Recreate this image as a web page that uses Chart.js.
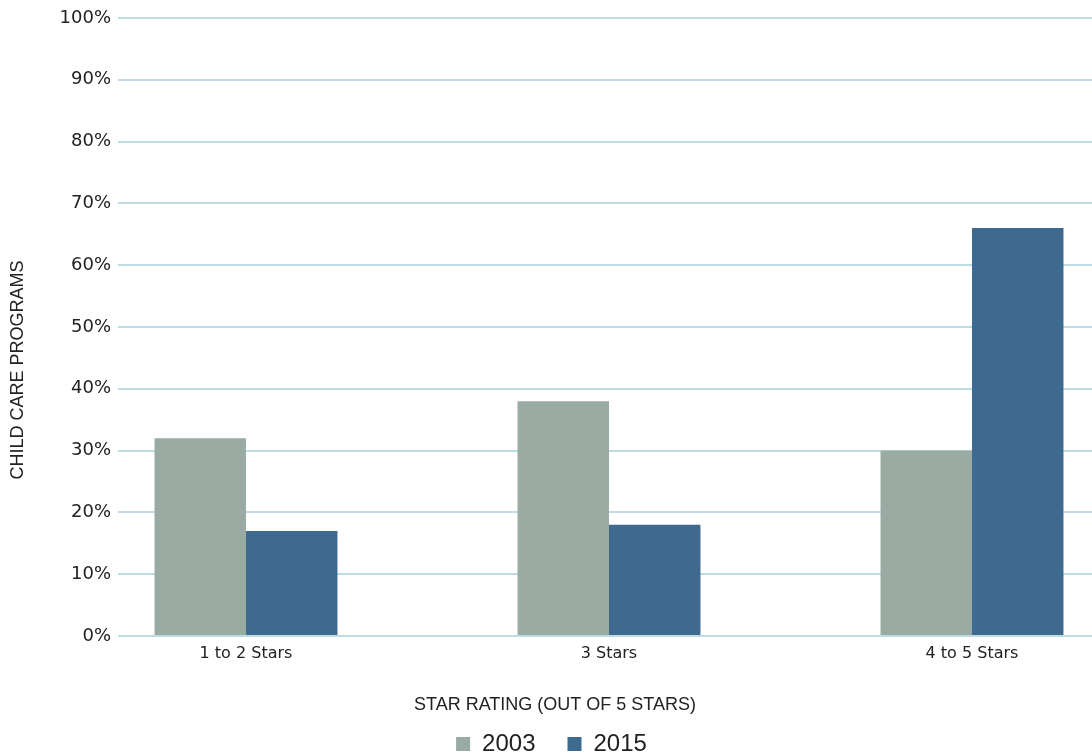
<!DOCTYPE html>
<html>
<head>
<meta charset="utf-8">
<script src="https://cdn.jsdelivr.net/npm/chart.js@4.4.1/dist/chart.umd.min.js"></script>
<style>
  html, body { margin:0; padding:0; background:#fff; overflow:hidden; }
  /* a little taller than the window so the legend sits as low as in the original */
  #wrap { width:1092px; height:766px; position:relative; }
</style>
</head>
<body>
<div id="wrap"><canvas id="bar-chart"></canvas></div>
<script>
  // data
  const categories = ['1 to 2 Stars', '3 Stars', '4 to 5 Stars'];
  const values2003 = [32, 38, 30];
  const values2015 = [17, 18, 66];
  const yTicks = [0, 10, 20, 30, 40, 50, 60, 70, 80, 90, 100];

  const sans = "'Liberation Sans', Arial, sans-serif";
  const wide = "'DejaVu Sans', sans-serif";

  // the axis titles are off-centre in the original, so draw them by hand
  const axisTitles = {
      id: 'axisTitles',
      afterDraw(chart) {
          const c = chart.ctx;
          c.save();
          c.font = '18px ' + sans;
          c.fillStyle = '#222';
          c.textAlign = 'center';
          c.textBaseline = 'middle';
          c.fillText('STAR RATING (OUT OF 5 STARS)', 555, 705);
          c.translate(18, 370);
          c.rotate(-Math.PI / 2);
          c.fillText('CHILD CARE PROGRAMS', 0, 0);
          c.restore();
      }
  };

  let ctx = document.getElementById('bar-chart');
  let myBarChart = new Chart(ctx, {
      type: 'bar',
      data: {
          datasets: [
              {
                  label: '2003',
                  data: values2003.map((v, i) => ({ x: i, y: v })),
                  backgroundColor: '#9aaba3',
                  borderWidth: 0
              },
              {
                  label: '2015',
                  data: values2015.map((v, i) => ({ x: i, y: v })),
                  backgroundColor: '#3e6a90',
                  borderWidth: 0
              }
          ]
      },
      options: {
          responsive: true,
          maintainAspectRatio: false,
          animation: false,
          // left padding nudges the legend right; y axis width makes up for it
          layout: { padding: { left: 11, right: 0, top: 18, bottom: 0 } },
          datasets: {
              bar: { categoryPercentage: 0.504, barPercentage: 1.0 }
          },
          scales: {
              x: {
                  type: 'linear',
                  offset: false,
                  min: -0.3526,
                  max: 2.3306,
                  afterBuildTicks: axis => {
                      axis.ticks = categories.map((c, i) => ({ value: i }));
                  },
                  afterFit: scale => { scale.height = 64; },
                  ticks: {
                      callback: v => categories[v],
                      color: '#222',
                      font: { family: wide, size: 16 },
                      padding: 8,
                      maxRotation: 0
                  },
                  grid: { display: false, drawTicks: false, tickLength: 0 },
                  border: { display: false }
              },
              y: {
                  min: 0,
                  max: 100,
                  afterBuildTicks: axis => {
                      axis.ticks = yTicks.map(v => ({ value: v }));
                  },
                  afterFit: scale => { scale.width = 107; },
                  ticks: {
                      callback: v => v + '%',
                      color: '#222',
                      font: { family: wide, size: 18 },
                      padding: 7
                  },
                  grid: { color: '#bddce4', lineWidth: 2, drawTicks: false },
                  border: { display: false }
              }
          },
          plugins: {
              legend: {
                  position: 'bottom',
                  labels: {
                      color: '#222',
                      font: { family: sans, size: 24 },
                      boxWidth: 14,
                      boxHeight: 14,
                      padding: 32
                  }
              },
              tooltip: { enabled: false }
          }
      },
      plugins: [axisTitles]
  });
</script>
</body>
</html>
